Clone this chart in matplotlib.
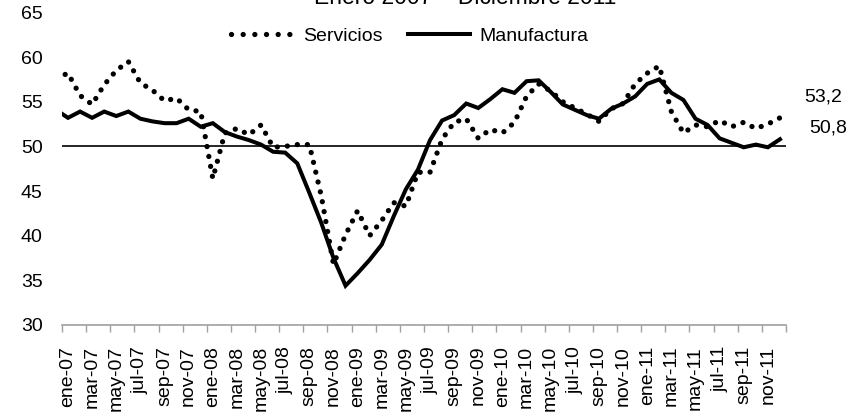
import matplotlib.pyplot as plt
from matplotlib.lines import Line2D

# Indicadores mensuales, dic-06 .. dic-11 (dic-06 only feeds the first segment)
meses = ['ene', 'feb', 'mar', 'abr', 'may', 'jun',
         'jul', 'ago', 'sep', 'oct', 'nov', 'dic']
anios = ['07', '08', '09', '10', '11']
etiquetas = [m + '-' + a for a in anios for m in meses]

servicios = [57.6,
             58.2, 55.7, 54.7, 56.9, 58.5, 59.5, 57.1, 56.3, 55.1, 55.4, 54.1, 53.9,
             46.4, 51.5, 52.0, 51.3, 52.4, 49.9, 50.0, 50.2, 50.2, 44.4, 36.8, 40.1,
             42.8, 40.0, 41.7, 43.7, 43.3, 47.1, 47.1, 50.8, 52.7, 53.1, 50.9, 51.9,
             51.5, 52.7, 55.6, 57.0, 56.2, 55.0, 54.3, 53.6, 52.8, 54.2, 54.8, 57.0,
             58.2, 59.0, 53.9, 51.5, 52.4, 52.2, 52.9, 52.2, 52.7, 52.0, 52.5, 53.2]

manufactura = [54.1,
               53.2, 53.9, 53.2, 53.9, 53.4, 53.9, 53.1, 52.8, 52.6, 52.6, 53.1, 52.2,
               52.6, 51.6, 51.1, 50.7, 50.2, 49.4, 49.3, 48.1, 44.8, 41.4, 37.5, 34.4,
               35.8, 37.3, 39.0, 42.2, 45.2, 47.4, 50.7, 52.9, 53.5, 54.8, 54.3, 55.3,
               56.4, 56.0, 57.3, 57.4, 56.1, 54.7, 54.1, 53.5, 53.1, 54.2, 54.8, 55.6,
               57.0, 57.5, 56.0, 55.2, 53.1, 52.4, 50.9, 50.4, 49.9, 50.2, 49.9, 50.8]

plt.rcParams['font.family'] = ['Liberation Sans', 'DejaVu Sans']

fig = plt.figure(figsize=(8.5, 4.15), dpi=100)
ax = fig.add_axes([0.0729, 0.2169, 0.8518, 0.7531])

x = list(range(-1, len(etiquetas)))

ax.axhline(50, color='black', lw=1.2, zorder=1)
ax.plot(x, manufactura, color='black', lw=2.9, solid_joinstyle='miter', zorder=3)
ax.plot(x, servicios, color='black', lw=3.8, linestyle=(0, (0.01, 1.9)),
        dash_capstyle='round', zorder=4)

ax.set_xlim(-0.5, len(etiquetas) - 0.5)
ax.set_ylim(30, 65)
ax.set_yticks(range(30, 66, 5))

ax.set_xticks(range(0, len(etiquetas), 2))
ax.set_xticklabels(etiquetas[::2], rotation=90)
ax.set_xticks([i - 0.5 for i in range(0, len(etiquetas) + 1, 2)], minor=True)
ax.tick_params(axis='x', which='major', length=0, pad=15, labelsize=14)
ax.tick_params(axis='x', which='minor', length=5, width=1, color='#a0a0a0')
ax.tick_params(axis='y', length=0, pad=14, labelsize=14)

for s in ['top', 'right', 'left']:
    ax.spines[s].set_visible(False)
ax.spines['bottom'].set_color('#a0a0a0')
ax.spines['bottom'].set_linewidth(1.2)

# valores finales a la derecha
fmt = lambda v: f'{v:.1f}'.replace('.', ',')
ax.annotate(fmt(servicios[-1]), (x[-1], servicios[-1]), xytext=(43, 21),
            textcoords='offset pixels', ha='center', va='center', fontsize=14,
            annotation_clip=False)
ax.annotate(fmt(manufactura[-1]), (x[-1], manufactura[-1]), xytext=(48, 11),
            textcoords='offset pixels', ha='center', va='center', fontsize=14,
            annotation_clip=False)

fig.text(465 / 850, 1 - 4 / 415, 'Enero 2007 \u2013 Diciembre 2011',
         ha='center', va='baseline', fontsize=16.5)

h_serv = Line2D([], [], color='black', lw=3.8, linestyle=(0, (0.01, 2.2)),
                dash_capstyle='round')
h_manu = Line2D([], [], color='black', lw=2.9)
fig.legend([h_serv, h_manu], ['Servicios', 'Manufactura'], ncol=2,
           loc='center', bbox_to_anchor=(410 / 850, 1 - 36 / 415), frameon=False,
           fontsize=14, handlelength=3.2, handletextpad=0.5, columnspacing=1.3)

fig.savefig('out.png', dpi=100)
